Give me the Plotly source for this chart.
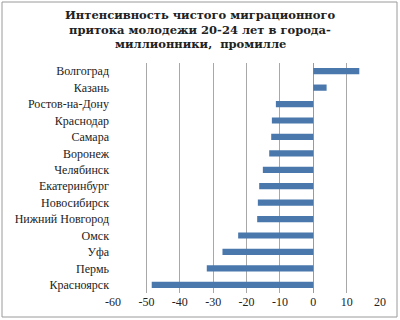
import plotly.graph_objects as go

cities = ["Волгоград", "Казань", "Ростов-на-Дону", "Краснодар", "Самара", "Воронеж",
          "Челябинск", "Екатеринбург", "Новосибирск", "Нижний Новгород", "Омск", "Уфа",
          "Пермь", "Красноярск"]
values = [13.8, 4.0, -11.2, -12.4, -12.6, -13.2, -15.1, -16.2, -16.6, -16.8, -22.5, -27.2, -31.9, -48.4]
xticks = [-60, -50, -40, -30, -20, -10, 0, 10, 20]
title_lines = ["Интенсивность чистого миграционного",
               "притока молодежи 20-24 лет в города-",
               "миллионники,  промилле"]

fig = go.Figure(go.Bar(
    x=values, y=cities, orientation="h",
    marker=dict(color="#4a78ad", line=dict(width=0)),
    width=0.38,
))

L, R, T, B = 113, 20, 63, 27
W, H = 400, 320
pw, ph = W - L - R, H - T - B

title_y = [15.5, 30, 44.5]
annotations = [dict(
    text=line, xref="paper", yref="paper",
    x=(200 - L) / pw, y=1 + (T - yy) / ph, xanchor="center", yanchor="middle",
    showarrow=False, borderpad=0,
    font=dict(family="DejaVu Serif, serif", size=11.5, color="#222222", weight="bold"),
) for line, yy in zip(title_lines, title_y)]

fig.update_layout(
    width=W, height=H,
    margin=dict(l=L, r=R, t=T, b=B),
    paper_bgcolor="white", plot_bgcolor="white",
    showlegend=False,
    xaxis=dict(
        range=[-60, 20], tickvals=xticks, ticktext=[str(v) for v in xticks],
        showgrid=True, gridcolor="#a8a8a8", gridwidth=1,
        zeroline=True, zerolinecolor="#9a9a9a", zerolinewidth=1,
        showline=False, ticks="",
        tickfont=dict(family="Liberation Serif, serif", size=12, color="#222222"),
    ),
    yaxis=dict(
        autorange="reversed", showgrid=False, zeroline=False, ticks="",
        tickfont=dict(family="Liberation Serif, serif", size=12, color="#222222"),
        ticksuffix=" ",
    ),
    annotations=annotations,
    shapes=[dict(
        type="rect", xref="paper", yref="paper",
        x0=(2 - L) / pw, x1=(397 - L) / pw,
        y0=-(317 - (H - B)) / ph, y1=1 + (T - 2) / ph,
        line=dict(color="#9a9a9a", width=1),
    )],
)

fig.write_html("out.html")
